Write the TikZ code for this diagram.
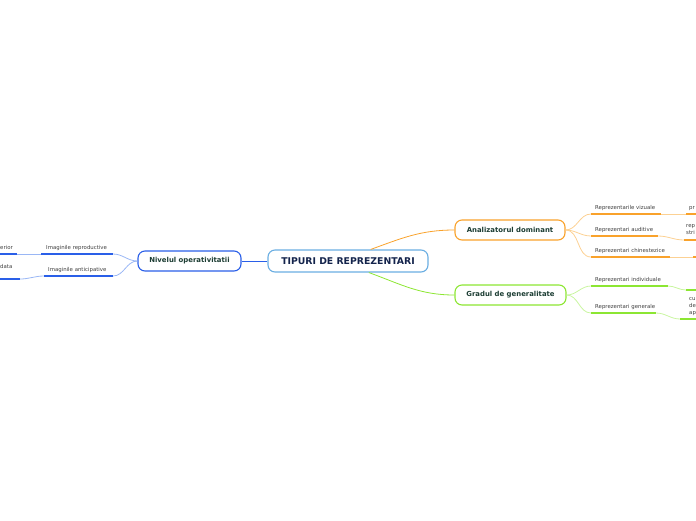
\documentclass[tikz,border=0pt]{standalone}
\usepackage{fontspec}
\setmainfont{DejaVu Sans}
\usepackage{tikz}
\usetikzlibrary{positioning}
\definecolor{centreblue}{HTML}{6AAEE2}
\definecolor{mapblue}{HTML}{2A5FE8}
\definecolor{lightblue}{HTML}{9AB7F5}
\definecolor{maporange}{HTML}{F9A22B}
\definecolor{lightorange}{HTML}{FCD193}
\definecolor{mapgreen}{HTML}{8CE632}
\definecolor{lightgreen}{HTML}{C9F5A0}
\definecolor{titletext}{HTML}{1C3D33}
\definecolor{centretext}{HTML}{13234B}
\definecolor{subtext}{HTML}{404040}
\tikzset{
	topic/.style={draw, rounded corners=7pt, fill=white, line width=1.1pt, minimum height=20pt, inner sep=0pt, font=\fontsize{6.9}{8}\selectfont\bfseries, text=titletext},
	sub/.style={anchor=west, inner sep=0pt, font=\fontsize{5.4}{6}\selectfont, text=subtext},
	uline/.style={line width=1.8pt},
	conn/.style={line width=0.8pt}
}

\begin{document}
\begin{tikzpicture}[x=1pt,y=1pt]
			\useasboundingbox (0,0) rectangle (696,-520);
			\node [topic, draw=centreblue, minimum width=160pt, minimum height=22pt, font=\fontsize{9.3}{10}\selectfont\bfseries, text=centretext] (tipuri) at (348,-261) {TIPURI DE REPREZENTARI};
			\node [topic, draw=mapblue, minimum width=103pt] (nivel) at (189.5,-261) {Nivelul operativitatii};
			\node [topic, draw=maporange, minimum width=110pt] (analiz) at (510,-230) {Analizatorul dominant};
			\node [topic, draw=mapgreen, minimum width=111pt] (gradul) at (510.5,-295) {Gradul de generalitate};
			\draw [conn,mapblue] (tipuri.west) -- (nivel.east);
			\draw [conn,maporange] (tipuri.27) to [out=20,in=180] (analiz.west);
			\draw [conn,mapgreen] (tipuri.-29) to [out=-20,in=180] (gradul.west);

			\node [sub] (vizuale) at (595,-208.5) {Reprezentarile vizuale};
			\coordinate (vizuale-a) at (591,-214);
			\coordinate (vizuale-b) at (661,-214);
			\coordinate (vizuale-c) at (686,-214);
			\coordinate (vizuale-d) at (696,-214);
			\node [sub] (vizuale-x) at (689,-208.5) {pr};
			\draw [conn,lightorange] (analiz.east) to [out=0,in=180] (vizuale-a);
			\draw [conn,lightorange] (vizuale-b) -- (vizuale-c);
			\draw [uline,maporange] (vizuale-a) -- (vizuale-b);
			\draw [uline,maporange] (vizuale-c) -- (vizuale-d);

			\node [sub] (auditive) at (595,-230.5) {Reprezentari auditive};
			\coordinate (auditive-a) at (591,-236);
			\coordinate (auditive-b) at (658,-236);
			\coordinate (auditive-c) at (684,-240);
			\coordinate (auditive-d) at (696,-240);
			\node [sub, align=left, font=\fontsize{5.4}{7}\selectfont] (auditive-x) at (686,-229.5) {rep\\stri};
			\draw [conn,lightorange] (analiz.east) to [out=0,in=180] (auditive-a);
			\draw [conn,lightorange] (auditive-b) to [out=0,in=180] (auditive-c);
			\draw [uline,maporange] (auditive-a) -- (auditive-b);
			\draw [uline,maporange] (auditive-c) -- (auditive-d);

			\node [sub] (chinest) at (595,-251.5) {Reprezentari chinestezice};
			\coordinate (chinest-a) at (591,-257);
			\coordinate (chinest-b) at (670,-257);
			\coordinate (chinest-c) at (693,-257);
			\coordinate (chinest-d) at (696,-257);
			\draw [conn,lightorange] (analiz.east) to [out=0,in=180] (chinest-a);
			\draw [conn,lightorange] (chinest-b) -- (chinest-c);
			\draw [uline,maporange] (chinest-a) -- (chinest-b);
			\draw [uline,maporange] (chinest-c) -- (chinest-d);

			\node [sub] (individ) at (595,-280.5) {Reprezentari individuale};
			\coordinate (individ-a) at (591,-286);
			\coordinate (individ-b) at (668,-286);
			\coordinate (individ-c) at (686,-290);
			\coordinate (individ-d) at (696,-290);
			\draw [conn,lightgreen] (gradul.east) to [out=0,in=180] (individ-a);
			\draw [conn,lightgreen] (individ-b) to [out=0,in=180] (individ-c);
			\draw [uline,mapgreen] (individ-a) -- (individ-b);
			\draw [uline,mapgreen] (individ-c) -- (individ-d);

			\node [sub] (generale) at (595,-307.5) {Reprezentari generale};
			\coordinate (generale-a) at (591,-313);
			\coordinate (generale-b) at (656,-313);
			\coordinate (generale-c) at (680,-319);
			\coordinate (generale-d) at (696,-319);
			\node [sub, align=left, font=\fontsize{5.4}{7}\selectfont] (generale-x) at (689,-307) {cu\\de\\ap};
			\draw [conn,lightgreen] (gradul.east) to [out=0,in=180] (generale-a);
			\draw [conn,lightgreen] (generale-b) to [out=0,in=180] (generale-c);
			\draw [uline,mapgreen] (generale-a) -- (generale-b);
			\draw [uline,mapgreen] (generale-c) -- (generale-d);

			\node [sub] (reprod) at (46,-248.5) {Imaginile reproductive};
			\coordinate (reprod-a) at (113,-254);
			\coordinate (reprod-b) at (41,-254);
			\coordinate (reprod-c) at (17,-254);
			\coordinate (reprod-d) at (0,-254);
			\node [sub, anchor=east] (reprod-x) at (13,-247.5) {erior};
			\draw [conn,lightblue] (nivel.west) to [out=180,in=0] (reprod-a);
			\draw [conn,lightblue] (reprod-b) -- (reprod-c);
			\draw [uline,mapblue] (reprod-a) -- (reprod-b);
			\draw [uline,mapblue] (reprod-c) -- (reprod-d);

			\node [sub] (anticip) at (48,-270.5) {Imaginile anticipative};
			\coordinate (anticip-a) at (113,-276);
			\coordinate (anticip-b) at (44,-276);
			\coordinate (anticip-c) at (20,-279);
			\coordinate (anticip-d) at (0,-279);
			\node [sub] (anticip-x) at (0,-266.5) {data};
			\draw [conn,lightblue] (nivel.west) to [out=180,in=0] (anticip-a);
			\draw [conn,lightblue] (anticip-b) to [out=180,in=0] (anticip-c);
			\draw [uline,mapblue] (anticip-a) -- (anticip-b);
			\draw [uline,mapblue] (anticip-c) -- (anticip-d);
		\end{tikzpicture}
\end{document}
